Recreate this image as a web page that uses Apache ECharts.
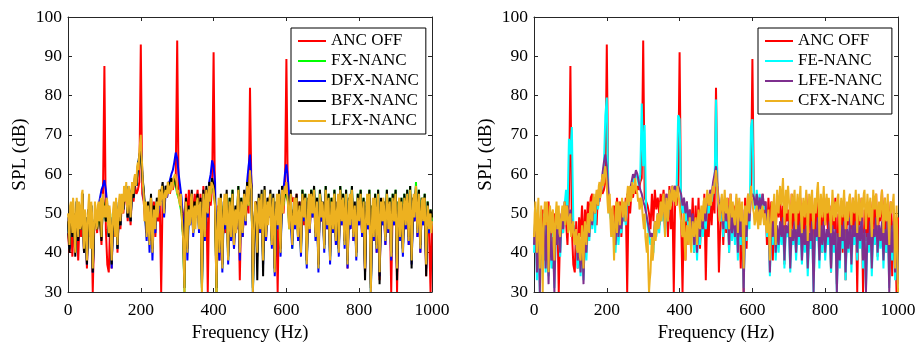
<!DOCTYPE html>
<html><head><meta charset="utf-8">
<script src="https://cdn.jsdelivr.net/npm/echarts@6/dist/echarts.min.js"></script>
<style>html,body{margin:0;padding:0;background:#fff}#c{width:919px;height:345px}</style>
</head><body><div id="c"></div>
<script>
// Frequency grids (Hz): coarse series sampled every 4 Hz, the top (orange) series every 2 Hz
const coarseStep = 4;
const fineStep = 2;
const xTicks = [0, 200, 400, 600, 800, 1000];
const yTicks = [30, 40, 50, 60, 70, 80, 90, 100];

// 4 Hz
const ancOff = [
45,40,50,39,48,42,51,38,49,44, 53,40,48,36,50,44,51,30,46,50, 45,52,48,42,54,87.5,46,37,35,48, 36,49,44,52,40,51,46,53,50,54,
55,48,54,47,56,53,57,55,56,58, 93,55,53,48,50,52,46,54,48,53, 44,52,48,54,30,55,50,56,54,57, 55,57,56,58,59,94,54,53,52,50,
46,55,48,56,51,54,50,55,52,56, 48,55,44,57,46,56,30,55,52,57, 91,50,30,52,38,53,42,51,45,54, 40,52,43,54,41,50,46,55,33,52,
44,54,47,56,50,82,55,35,47,53, 42,53,45,54,40,55,43,52,49,54, 44,53,36,51,30,54,41,55,50,56, 89.3,54,52,55,53,54,50,55,48,53,
42,54,47,53,38,52,45,54,49,55, 45,52,37,54,48,51,42,55,46,53, 40,52,45,54,42,51,41,55,47,53, 43,54,36,52,46,55,43,51,40,53,
47,54,44,52,35,51,46,54,32,50, 43,53,40,54,33,52,47,51,42,54, 45,52,30,53,47,54,30,51,43,52, 41,53,46,54,42,55,39,52,48,56,
44,54,40,52,47,53,34,51,45,30, 49];

// 4 Hz
const fxNanc = [
49,41,52,45,50,40,53,44,51,46, 55,41,49,38,51,45,52,36,47,50, 46,52,49,44,53,52,48,52,44,50, 37,50,46,53,41,52,47,54,51,55,
57,49,56,48,57,54,59,57,62,64, 66,60,55,50,44,52,42,54,40,51, 46,53,51,55,54,57,50,56,55,57, 56,58,57,59,59,55,54,52,50,44,
30,53,40,51,48,55,45,52,50,54, 46,53,30,55,44,56,50,57,55,58, 56,52,30,50,40,54,36,52,47,55, 38,54,44,56,42,51,47,57,40,54,
45,55,48,57,52,60,56,30,48,52, 40,54,46,55,38,56,44,53,50,55, 42,54,35,52,47,55,40,56,52,56, 56,53,46,55,41,50,47,54,44,52,
40,56,49,55,37,53,46,56,50,57, 44,54,36,56,49,52,41,57,47,55, 38,54,46,56,43,52,40,57,48,55, 42,56,37,54,47,57,44,52,39,55,
48,56,45,54,36,52,47,56,30,52, 44,55,41,56,35,53,48,53,43,56, 46,54,39,55,48,56,36,53,44,54, 40,55,47,56,43,57,38,54,49,58,
45,56,41,54,48,55,37,53,46,51, 48];

// 4 Hz
const dfxNanc = [
49,41,52,44,50,40,53,43,51,46, 55,40,49,37,51,45,52,35,47,50, 48,52,54,56,57,58.5,56,52,44,49, 36,50,46,53,41,52,47,54,51,55,
57,49,56,48,57,54,59,57,62,64, 68,61,54,49,43,51,40,53,38,50, 45,52,50,54,53,56,49,55,54,57, 57,60,61,63,65.5,64,60,57,54,48,
35,52,38,50,47,54,44,51,49,53, 45,52,32,54,43,55,49,58,60,63.5, 62,58,34,49,38,53,35,51,46,54, 37,52,43,54,41,50,46,55,38,52,
44,54,47,58,62,65,58,30,47,51, 39,53,45,54,37,55,43,52,49,54, 41,53,34,51,46,54,39,55,56,60, 62.5,59,54,54,41,49,46,53,43,51,
39,54,48,53,36,52,45,54,49,55, 43,52,35,54,48,51,40,55,46,53, 37,52,45,54,42,51,39,55,47,53, 41,54,36,52,46,55,43,51,38,53,
47,54,44,52,35,51,46,54,30,50, 43,53,40,54,34,52,47,51,42,54, 45,52,38,53,47,54,35,51,43,52, 39,53,46,54,42,55,37,52,48,56,
44,54,40,52,47,53,36,51,45,49, 47];

// 4 Hz
const bfxNanc = [
48,40,52,44,50,39,53,43,51,46, 55,40,49,37,51,45,52,35,47,50, 46,52,49,43,54,51,48,52,44,49, 37,50,46,53,41,52,47,54,51,55,
57,49,56,48,57,54,59,57,62,65, 66,60,56,51,45,53,43,55,41,52, 47,54,52,56,55,58,51,57,56,58, 57,59,58,59,59,56,55,53,51,45,
31,54,41,52,49,56,46,53,51,55, 47,54,31,56,45,57,51,58,56,59, 57,53,31,51,41,55,37,53,48,56, 39,54,45,56,43,52,48,57,41,54,
46,56,49,58,53,60,57,31,49,53, 33,55,47,56,34,57,45,54,51,56, 43,55,36,53,48,56,41,57,53,55, 56,54,47,56,43,51,48,55,45,53,
41,56,50,55,38,54,47,56,51,57, 45,54,37,56,50,53,42,57,48,55, 39,54,47,56,44,53,41,57,49,55, 43,56,38,54,48,57,45,53,40,55,
49,56,46,54,33,53,48,56,31,52, 45,55,42,56,32,54,49,53,44,56, 47,54,40,55,49,56,33,53,45,54, 41,55,48,56,44,57,36,54,50,57,
46,56,42,54,49,55,34,53,47,51, 49];

// 2 Hz
const lfxNanc = [
50,47,42,52,53,49,45,54,51,44,40,50,54,48,44,53,52,46,47,55,
56,45,41,51,50,43,38,47,52,55,46,41,53,50,36,44,48,53,51,46,
47,52,53,48,50,54,44,51,55,49,52,50,49,54,53,47,45,52,50,43,
38,46,51,53,47,44,54,50,42,49,53,55,48,52,55,50,52,57,56,53,
58,52,50,56,57,53,49,54,58,56,55,59,60,57,58,62,63,61,66,68,
70,65,62,57,55,48,50,53,44,47,52,46,42,50,54,48,40,45,51,49,
46,52,53,49,51,56,55,52,54,57,57,53,50,55,56,54,55,58,57,55,
56,57,58,56,57,59,59,60,60,58,55,56,54,53,52,55,50,47,44,38,
30,45,53,48,40,50,51,47,48,54,55,49,45,51,52,46,50,53,54,48,
46,52,53,41,30,48,55,50,44,53,56,51,50,55,57,53,55,58,58,57,
56,54,52,40,30,44,50,54,40,48,54,45,36,47,52,55,47,51,55,44,
38,49,53,47,44,52,55,48,42,50,51,45,47,53,56,49,40,46,53,50,
45,52,55,51,48,54,57,53,52,57,61,58,56,44,30,42,48,53,52,47,
40,49,54,50,46,53,55,45,38,50,56,52,44,49,53,47,50,54,55,46,
42,51,54,45,35,48,52,55,47,53,55,44,40,52,56,50,52,56,57,55,
58,55,53,48,46,52,55,49,42,47,50,54,47,51,54,46,44,50,52,48,
40,49,55,51,49,53,54,44,37,46,53,55,46,50,55,52,50,54,56,49,
44,50,53,45,36,47,55,52,49,53,52,46,41,50,56,53,47,51,54,45,
38,48,53,50,46,54,55,47,43,50,52,55,40,49,56,51,48,53,54,46,
42,51,55,48,37,46,53,55,47,51,56,50,44,49,52,46,39,48,54,51,
48,53,55,49,45,50,53,44,36,47,52,55,47,51,55,42,30,44,51,54,
44,50,54,47,41,51,55,46,35,48,53,50,48,54,52,47,43,50,55,52,
46,51,53,44,39,49,54,50,48,53,55,45,36,47,52,54,44,50,53,47,
40,50,54,51,47,53,55,48,43,52,56,50,38,47,53,55,49,54,57,51,
45,51,55,49,41,48,53,54,48,52,54,46,37,47,52,50,46,49,50,45,
48];

// 4 Hz
const feNanc = [
40,51,33,47,30,45,38,50,35,46, 34,45,36,45,31,46,43,47,39,49, 45,52,56,50,69,65,72,48,43,44, 36,42,34,44,33,45,38,47,43,51,
46,53,45,54,51,56,55,59,62,75, 79.5,55,50,48,44,46,40,48,42,47, 45,49,50,47,53,52,55,57,58,58, 60,59,57,60,78,62,72.5,50,47,44,
42,44,40,47,44,49,45,51,48,53, 44,53,48,55,52,56,54,56,57,75, 74,54,50,52,48,51,46,49,44,48, 40,47,38,48,42,49,44,51,46,53,
50,54,53,56,57,79,55,51,48,52, 44,52,46,51,40,50,43,49,42,51, 38,49,42,50,31,48,43,51,46,72, 74,53,51,56,49,55,50,54,51,52,
44,49,34,47,42,48,38,46,40,47, 42,48,36,46,44,47,35,45,42,47, 38,46,42,47,37,45,40,46,34,44, 41,47,30,45,43,48,36,46,40,47,
38,45,42,47,35,46,40,45,30,44, 36,46,41,47,33,45,40,48,35,46, 42,47,38,46,41,48,36,45,31,44, 40,47,34,45,42,48,38,46,41,47,
36,45,40,48,31,46,38,47,33,45, 31];

// 4 Hz
const lfeNanc = [
42,50,35,48,30,46,40,49,36,47, 32,46,38,44,30,47,42,48,40,50, 46,53,50,52,48,51,46,47,44,45, 38,43,35,45,32,46,40,48,44,52,
47,54,50,55,52,57,56,60,63,65, 62,56,52,50,45,48,42,50,44,49, 46,50,52,48,55,53,56,58,60,59, 61,60,58,56,55,53,52,50,48,46,
44,45,42,48,46,50,47,52,50,54, 46,55,50,56,54,57,56,57,55,57, 56,55,52,54,50,53,48,51,46,50, 42,48,40,49,44,50,46,52,48,55,
52,56,55,58,60,62,57,53,50,54, 46,53,48,52,42,51,45,50,44,52, 40,50,44,51,30,49,44,52,48,54, 55,54,52,55,50,54,51,55,52,53,
46,50,35,48,44,49,40,47,42,48, 44,49,38,47,45,48,36,46,43,48, 40,47,44,48,38,46,42,47,36,45, 43,48,30,46,44,49,38,47,42,48,
40,46,44,48,36,47,42,46,30,45, 38,47,43,48,35,46,41,49,37,47, 44,48,40,47,43,49,38,46,30,45, 42,48,36,46,44,49,40,47,43,48,
38,46,42,49,30,47,40,48,35,46, 32];

// 2 Hz
const cfxNanc = [
44,50,53,46,40,49,54,44,36,47,52,41,30,45,50,53,47,51,53,48,
35,46,52,48,45,50,51,42,38,47,50,53,46,49,52,45,44,48,50,52,
48,51,53,47,49,52,51,45,46,49,50,44,44,47,48,43,42,45,46,41,
40,44,45,39,38,43,47,41,36,45,48,44,42,47,50,46,45,51,53,49,
48,53,55,51,50,54,56,53,52,57,58,54,55,58,60,57,58,61,62,60,
57,53,50,54,55,48,44,50,52,44,38,46,50,53,45,49,53,50,47,52,
51,54,49,52,53,50,48,53,55,57,52,55,57,53,54,58,58,55,56,59,
57,56,55,53,54,51,52,54,53,50,48,46,50,44,42,40,45,36,30,33,
35,40,44,38,40,45,48,43,45,49,50,46,47,51,53,48,50,54,55,50,
44,51,54,50,48,53,56,51,52,55,57,54,53,56,55,52,54,57,56,54,
52,50,48,45,44,47,50,42,38,44,47,45,42,46,49,43,40,45,48,46,
44,47,49,45,42,48,51,47,46,50,52,49,48,53,54,50,50,53,56,54,
52,54,55,52,54,56,57,55,58,59,61,58,56,53,52,48,50,53,55,51,
48,53,56,51,50,54,54,49,46,51,55,52,49,53,53,48,47,52,55,50,
45,51,54,50,48,52,53,44,36,47,52,49,47,53,55,51,50,54,57,54,
53,51,50,47,48,51,52,48,46,50,51,47,49,51,52,49,47,50,50,46,
45,49,51,44,38,46,50,53,48,52,55,47,42,51,56,52,50,54,57,53,
52,56,59,53,47,52,56,50,54,57,57,51,44,50,55,52,50,54,56,49,
46,52,55,50,51,54,57,48,45,51,54,50,49,53,56,51,43,49,55,52,
50,54,56,49,46,51,54,50,52,56,58,53,44,50,55,52,49,53,57,51,
47,52,55,50,51,54,54,48,45,51,56,52,48,51,53,49,50,54,55,50,
44,50,54,51,49,53,56,50,46,50,53,48,51,54,55,49,47,52,54,51,
50,53,56,50,45,51,55,52,48,51,54,49,52,55,56,50,46,51,55,52,
49,52,54,48,44,50,56,53,51,54,55,50,47,51,53,49,50,54,56,51,
45,50,54,49,48,52,55,47,42,49,53,50,50,53,55,46,36,45,52,44,
30];

const leftNames = ['ANC OFF','FX-NANC','DFX-NANC','BFX-NANC','LFX-NANC'];
const rightNames = ['ANC OFF','FE-NANC','LFE-NANC','CFX-NANC'];
const leftData = [ancOff, fxNanc, dfxNanc, bfxNanc, lfxNanc];
const leftSteps = [coarseStep, coarseStep, coarseStep, coarseStep, fineStep];
const rightData = [ancOff, feNanc, lfeNanc, cfxNanc];
const rightSteps = [coarseStep, coarseStep, coarseStep, fineStep];

const C = {
  'ANC OFF':'#ff0000','FX-NANC':'#00ff00','DFX-NANC':'#0000ff','BFX-NANC':'#000000','LFX-NANC':'#EDB120',
  'FE-NANC':'#00ffff','LFE-NANC':'#7E2F8E','CFX-NANC':'#EDB120'
};
const FONT = '"Liberation Serif","Times New Roman",serif';
const AX = '#262626';

function pairs(vals, step){ return vals.map((v,i)=>[i*step, v]); }

function xAx(grid, bottom){
  return {type:'value', gridIndex:grid, position: bottom?'bottom':'top', min:xTicks[0], max:xTicks[xTicks.length-1], interval:200,
    axisLine:{show:true,onZero:false,lineStyle:{color:AX,width:1}},
    axisTick:{show:true,inside:true,length:4,lineStyle:{color:AX}},
    axisLabel:{show:bottom,color:'#000',fontFamily:FONT,fontSize:17.5,margin:9,formatter:v=>String(v)},
    splitLine:{show:false},
    name: bottom?'Frequency (Hz)':'', nameLocation:'middle', nameGap:32,
    nameTextStyle:{color:'#000',fontFamily:FONT,fontSize:18.5}};
}
function yAx(grid, left){
  return {type:'value', gridIndex:grid, position: left?'left':'right', min:yTicks[0], max:yTicks[yTicks.length-1], interval:10,
    axisLine:{show:true,onZero:false,lineStyle:{color:AX,width:1}},
    axisTick:{show:true,inside:true,length:4,lineStyle:{color:AX}},
    axisLabel:{show:left,color:'#000',fontFamily:FONT,fontSize:17.5,margin:6,formatter:v=>String(v)},
    splitLine:{show:false},
    name: left?'SPL (dB)':'', nameLocation:'middle', nameGap:38, nameRotate:90,
    nameTextStyle:{color:'#000',fontFamily:FONT,fontSize:19}};
}

function mk(name, vals, step, g){
  return {name, type:'line', xAxisIndex:g*2, yAxisIndex:g*2, data:pairs(vals, step), symbol:'none',
    lineStyle:{color:C[name], width:2}, itemStyle:{color:C[name]}, animation:false};
}

const series = [];
leftNames.forEach((n,i)=>series.push(mk(n,leftData[i],leftSteps[i],0)));
rightNames.forEach((n,i)=>series.push(mk(n,rightData[i],rightSteps[i],1)));

function legend(names, left, top){
  return {data:names, orient:'vertical', left, top, icon:'rect', itemWidth:28, itemHeight:2, itemGap:0,
    backgroundColor:'#fff', borderColor:'#000', borderWidth:1, padding:[3,7,3,7],
    textStyle:{color:'#000',fontFamily:FONT,fontSize:17,lineHeight:20}, selectedMode:false};
}

const chart = echarts.init(document.getElementById('c'), null, {renderer:'canvas'});
chart.setOption({
  animation:false,
  backgroundColor:'#fff',
  grid:[{left:68,top:17,width:364,height:275,outerBoundsMode:'none'},{left:534,top:17,width:364,height:275,outerBoundsMode:'none'}],
  xAxis:[xAx(0,true),xAx(0,false),xAx(1,true),xAx(1,false)],
  yAxis:[yAx(0,true),yAx(0,false),yAx(1,true),yAx(1,false)],
  legend:[legend(leftNames,291,28),legend(rightNames,758,28)],
  series
});
</script></body></html>
